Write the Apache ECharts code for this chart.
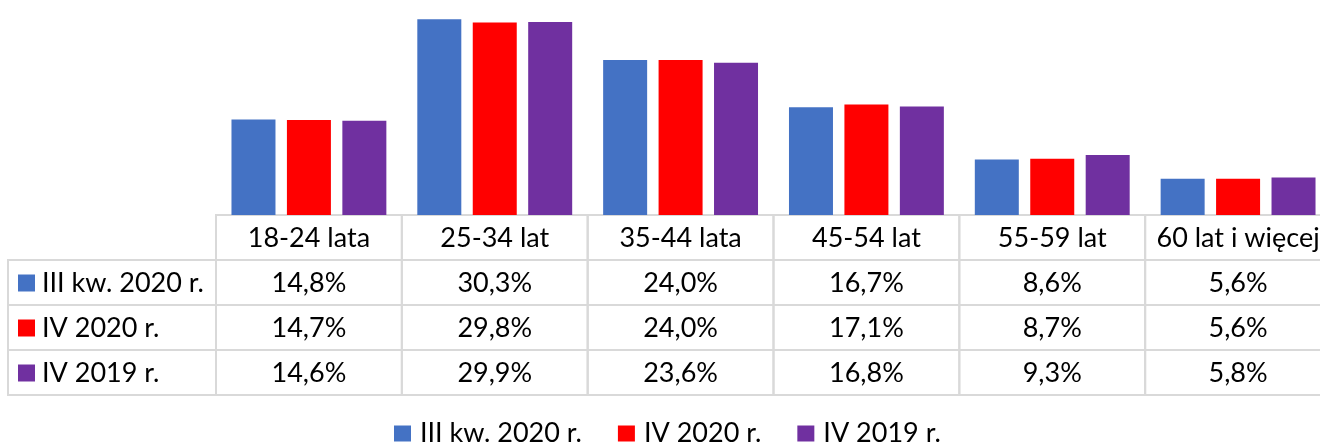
<!DOCTYPE html>
<html>
<head>
<meta charset="utf-8">
<script src="https://cdn.jsdelivr.net/npm/echarts@6/dist/echarts.min.js"></script>
<style>
  html, body { margin: 0; padding: 0; background: #fff; }
  #chart { width: 1320px; height: 444px; }
</style>
</head>
<body>
<div id="chart"></div>
<script>
// dane z wykresu
const categories = ['18-24 lata', '25-34 lat', '35-44 lata', '45-54 lat', '55-59 lat', '60 lat i więcej']
const seriesNames = ['III kw. 2020 r.', 'IV 2020 r.', 'IV 2019 r.']
const q3_2020 = [14.8, 30.3, 24.0, 16.7, 8.6, 5.6]
const q4_2020 = [14.7, 29.8, 24.0, 17.1, 8.7, 5.6]
const q4_2019 = [14.6, 29.9, 23.6, 16.8, 9.3, 5.8]
const colors = ['#4472C4', '#FF0000', '#7030A0']

const allValues = [q3_2020, q4_2020, q4_2019]
const rowKeys = ['head'].concat(seriesNames)
const FONT = 'Lato, "Open Sans", sans-serif'
const FONT_SIZE = 27
const lineColor = '#D9D9D9'

const fmt = v => v.toFixed(1).replace('.', ',') + '%'

// komórki tabeli: [kolumna, wiersz]
const cells = []
for (let r = 0; r < rowKeys.length; r++) {
  for (let c = 0; c < categories.length; c++) {
    cells.push([c, r])
  }
}

function renderCell(params, api) {
  const col = api.value(0)
  const row = api.value(1)
  const pt = api.coord([col, row])
  const size = api.size([1, 1])
  const w = size[0]
  const h = size[1]
  const x0 = pt[0] - w / 2
  const y0 = pt[1] - h / 2
  const text = row === 0 ? categories[col] : fmt(allValues[row - 1][col])
  const children = [
    {
      type: 'rect',
      shape: { x: x0, y: y0, width: w, height: h },
      style: { fill: 'none', stroke: lineColor, lineWidth: 2 }
    },
    {
      type: 'text',
      style: {
        text: text, x: pt[0], y: pt[1] + 1,
        textAlign: 'center', textVerticalAlign: 'middle',
        fontSize: FONT_SIZE, fontFamily: FONT, fill: '#000'
      }
    }
  ]
  // kolumna legendy po lewej
  if (col === 0 && row > 0) {
    const lw = 208
    children.push({
      type: 'rect',
      shape: { x: x0 - lw, y: y0, width: lw, height: h },
      style: { fill: 'none', stroke: lineColor, lineWidth: 2 }
    })
    children.push({
      type: 'rect',
      shape: { x: x0 - lw + 10, y: pt[1] - 8, width: 17, height: 17 },
      style: { fill: colors[row - 1] }
    })
    children.push({
      type: 'text',
      style: {
        text: seriesNames[row - 1], x: x0 - lw + 34, y: pt[1] + 1,
        textAlign: 'left', textVerticalAlign: 'middle',
        fontSize: FONT_SIZE, fontFamily: FONT, fill: '#000'
      }
    })
  }
  return { type: 'group', children: children }
}

const chart = echarts.init(document.getElementById('chart'))
chart.setOption({
  animation: false,
  color: colors,
  textStyle: { fontFamily: FONT },
  legend: {
    data: seriesNames,
    top: 420,
    left: 394,
    padding: 0,
    icon: 'rect',
    itemWidth: 17,
    itemHeight: 16,
    itemGap: 36,
    textStyle: { fontSize: FONT_SIZE, lineHeight: 20, color: '#000', fontFamily: FONT, padding: [0, 0, 0, 4] }
  },
  grid: [
    { left: 216, width: 1115, top: 0, height: 215, outerBoundsMode: 'none' },
    { left: 216, width: 1115, top: 215, height: 180, outerBoundsMode: 'none' }
  ],
  xAxis: [
    {
      type: 'category',
      gridIndex: 0,
      data: categories,
      axisLine: { show: false },
      axisTick: { show: false },
      axisLabel: { show: false }
    },
    {
      type: 'category',
      gridIndex: 1,
      data: categories,
      axisLine: { show: false },
      axisTick: { show: false },
      axisLabel: { show: false }
    }
  ],
  yAxis: [
    {
      type: 'value',
      gridIndex: 0,
      min: 0,
      max: 33.3,
      show: false
    },
    {
      type: 'category',
      gridIndex: 1,
      data: rowKeys,
      inverse: true,
      show: false
    }
  ],
  series: [
    {
      name: seriesNames[0],
      type: 'bar',
      data: q3_2020,
      barWidth: 44,
      barGap: '26%'
    },
    {
      name: seriesNames[1],
      type: 'bar',
      data: q4_2020,
      barWidth: 44,
      barGap: '26%'
    },
    {
      name: seriesNames[2],
      type: 'bar',
      data: q4_2019,
      barWidth: 44,
      barGap: '26%'
    },
    {
      type: 'custom',
      xAxisIndex: 1,
      yAxisIndex: 1,
      clip: false,
      silent: true,
      renderItem: renderCell,
      data: cells
    }
  ]
})
</script>
</body>
</html>
